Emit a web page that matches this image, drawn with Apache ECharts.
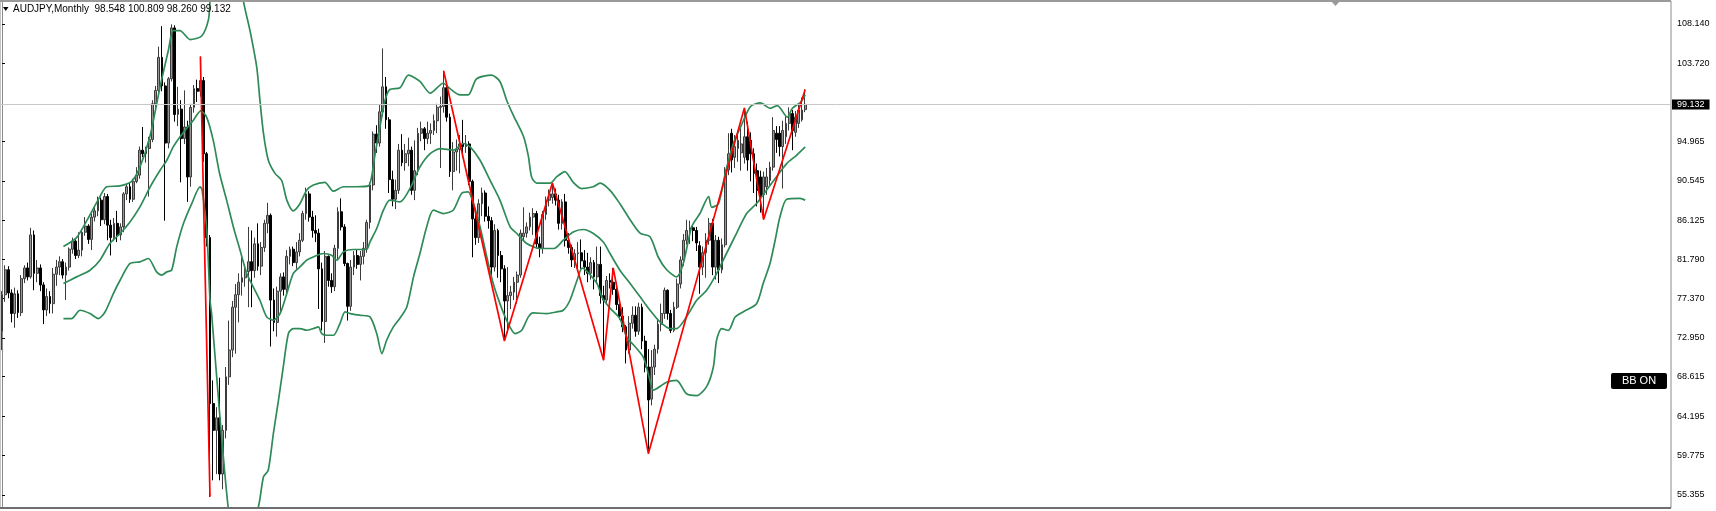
<!DOCTYPE html>
<html><head><meta charset="utf-8">
<script src="https://cdn.jsdelivr.net/npm/echarts@6/dist/echarts.min.js"></script>
<style>html,body{margin:0;padding:0;background:#fff}#c{width:1716px;height:511px}</style>
</head><body><div id="c"></div>
<script>
// Monthly AUDJPY bars, index 0 = first bar on the chart
const opens=[73.7,77.8,80.6,78.0,75.7,77.9,75.8,79.6,80.8,79.8,
84.5,80.2,80.8,78.9,76.1,77.6,76.8,80.1,80.9,81.5,
80.0,80.9,82.9,83.8,82.2,82.8,84.8,85.5,84.0,86.5,
87.2,88.4,86.2,88.8,85.6,84.2,85.8,84.5,85.4,89.1,
89.9,88.5,90.5,91.2,94.0,93.6,94.2,95.2,99.2,100.7,
104.4,101.2,94.8,102.0,107.7,98.0,98.6,95.3,96.6,91.0,
98.8,100.9,100.6,101.8,93.6,84.2,65.6,62.6,64.0,57.7,
62.6,68.6,71.6,76.4,77.8,79.2,79.7,80.4,81.5,80.5,
83.5,81.0,83.1,85.8,86.7,77.2,74.7,78.2,79.8,78.4,
82.1,82.9,81.4,82.6,83.9,86.9,89.1,86.5,85.0,84.7,
80.7,74.8,82.1,79.4,78.7,83.0,87.1,85.4,81.3,76.5,
80.9,82.2,81.2,82.1,83.0,85.9,90.1,95.8,94.8,98.3,
101.1,97.4,90.7,88.5,89.5,94.0,92.6,93.6,94.0,89.5,
91.7,95.9,96.4,95.3,95.9,96.2,97.3,98.8,98.9,101.0,
97.7,91.6,93.8,94.1,94.7,94.4,94.7,90.5,86.3,84.2,
88.0,89.2,86.6,86.1,80.9,85.0,82.2,80.7,77.1,77.7,
78.1,79.2,80.0,84.3,84.7,85.4,86.5,86.9,83.5,83.0,
86.8,88.4,88.7,89.1,88.4,85.8,88.2,83.9,83.1,81.7,
82.4,82.5,81.6,80.9,80.2,81.4,79.8,81.2,77.7,77.2,
79.4,79.2,78.4,76.7,75.4,74.2,71.6,74.6,75.5,73.7,
76.4,72.6,69.7,66.1,69.7,71.7,74.5,75.7,78.3,75.7,
73.8,76.4,79.0,81.7,83.9,85.0,85.3,85.0,83.3,80.9,
82.5,83.9,85.8,80.9,83.9,80.6,83.4,91.8,95.9,93.2,
94.2,93.7,93.2,95.5,95.1,93.6,91.7,91.0,89.0,89.9,
90.6,92.1,95.9,95.9,94.4,95.5,97.0,98.1,96.0,97.0,
97.4,98.548];
const highs=[78.2,81.1,81.0,78.4,78.6,78.3,80.0,81.1,81.4,85.3,
85.0,81.7,81.2,79.2,78.5,78.2,80.8,81.7,82.1,81.8,
81.4,83.1,84.2,84.0,84.8,85.2,86.5,85.7,86.9,87.6,
88.8,88.7,89.2,89.1,86.2,86.4,87.2,85.8,89.3,90.2,
90.3,90.8,92.1,94.4,96.6,94.4,95.5,99.6,101.2,105.6,
107.9,101.6,102.2,108.1,108.0,101.1,99.6,100.7,97.3,99.2,
101.3,101.9,104.5,102.2,93.8,84.5,68.2,65.2,68.5,63.2,
69.7,74.9,77.1,79.0,80.2,82.0,81.2,85.4,85.0,84.2,
85.8,83.7,86.2,88.1,86.9,78.5,78.7,80.2,80.3,82.8,
83.2,83.2,83.7,84.7,87.2,89.8,89.4,87.2,86.7,85.2,
81.4,82.7,82.2,80.2,83.4,87.6,88.6,85.7,81.4,81.7,
82.7,82.9,82.7,83.7,86.2,90.4,96.1,96.8,99.1,105.4,
102.2,97.7,91.7,90.7,94.7,95.8,94.7,95.4,94.4,95.1,
96.5,97.2,96.6,97.2,97.0,98.0,99.2,100.0,102.9,101.7,
98.1,94.9,95.2,95.7,97.4,95.7,95.0,90.7,87.2,88.5,
89.8,89.5,87.7,86.5,85.7,85.2,82.7,81.1,80.9,78.8,
79.8,80.4,85.1,87.6,85.9,87.0,87.5,87.2,84.3,87.2,
88.8,89.6,90.33,89.7,89.0,88.5,89.1,84.7,83.4,82.9,
83.7,84.0,82.8,82.5,82.0,81.7,83.2,83.2,78.8,79.9,
80.2,80.8,79.2,77.1,76.4,74.4,75.4,76.5,76.5,76.9,
76.8,73.2,71.7,71.6,72.2,75.1,76.8,78.6,78.4,76.1,
77.0,79.6,82.1,84.6,86.2,86.1,85.7,85.4,83.8,83.2,
84.7,86.4,86.3,84.5,84.3,84.1,92.1,95.9,96.4,95.7,
96.2,96.5,98.74,97.2,96.0,94.2,92.5,91.7,91.6,92.0,
92.7,97.7,96.7,96.7,97.3,97.8,98.8,98.5,98.4,99.1,
99.9,100.809];
const lows=[71.6,77.0,77.4,74.7,74.1,75.2,75.4,79.1,79.4,79.6,
78.3,79.2,78.2,74.5,75.4,75.7,75.7,78.8,80.0,79.6,
77.2,80.5,82.4,81.8,81.9,82.1,84.4,83.5,82.8,86.0,
86.6,85.5,85.7,83.9,82.2,83.8,83.7,83.9,84.8,88.4,
88.1,88.2,90.3,90.8,93.2,92.6,88.8,94.9,98.5,100.4,
100.6,86.1,94.2,101.7,97.2,96.7,90.4,94.7,88.2,89.9,
98.2,99.4,100.0,92.7,83.2,55.15,57.0,57.7,57.0,56.0,
61.7,67.7,70.8,71.2,74.7,77.7,78.7,76.4,76.4,79.7,
80.5,80.0,82.6,84.7,72.0,73.7,73.1,75.7,77.7,78.0,
81.2,81.0,80.7,82.1,83.7,86.2,86.0,84.2,83.7,76.2,
73.8,72.4,78.7,78.0,78.2,81.7,85.0,81.0,74.9,76.0,
80.0,80.7,79.4,81.2,82.5,85.2,89.5,93.7,94.4,97.8,
96.4,89.2,87.7,87.4,89.1,92.2,91.7,92.2,89.0,88.4,
91.2,95.0,94.0,94.7,94.7,95.7,95.9,92.0,98.2,97.2,
91.0,89.5,91.7,91.4,93.2,93.7,90.1,82.0,83.4,83.6,
86.6,86.0,85.2,80.0,80.4,79.7,79.2,72.62,73.5,76.2,
77.2,76.8,79.7,83.9,84.2,85.0,84.5,83.1,82.0,82.4,
86.2,87.7,88.0,87.8,85.1,85.1,83.2,82.4,80.9,80.8,
80.8,80.7,80.0,79.2,79.5,78.4,79.0,76.8,70.46,76.7,
78.5,77.8,76.1,75.0,73.6,70.1,71.2,74.0,73.1,73.3,
71.7,69.1,60.0,65.4,68.8,71.2,73.7,75.1,75.0,73.5,
73.6,76.2,78.5,81.0,83.4,83.5,83.8,82.7,77.9,80.0,
79.7,83.4,80.0,79.5,79.1,80.2,83.1,91.2,91.5,92.0,
92.7,91.7,92.5,91.7,90.5,89.2,87.7,87.0,86.23,89.0,
90.1,91.7,93.7,93.3,89.7,94.7,96.2,94.0,95.5,96.5,
97.2,98.26];
const closes=[77.8,80.6,78.0,75.7,77.9,75.8,79.6,80.8,79.8,84.5,
80.2,80.8,78.9,76.1,77.6,76.8,80.1,80.9,81.5,80.0,
80.9,82.9,83.8,82.2,82.8,84.8,85.5,84.0,86.5,87.2,
88.4,86.2,88.8,85.6,84.2,85.8,84.5,85.4,89.1,89.9,
88.5,90.5,91.2,94.0,93.6,94.2,95.2,99.2,100.7,104.4,
101.2,94.8,102.0,107.7,98.0,98.6,95.3,96.6,91.0,98.8,
100.9,100.6,101.8,93.6,84.2,65.6,62.6,64.0,57.7,62.6,
68.6,71.6,76.4,77.8,79.2,79.7,80.4,81.5,80.5,83.5,
81.0,83.1,85.8,86.7,77.2,74.7,78.2,79.8,78.4,82.1,
82.9,81.4,82.6,83.9,86.9,89.1,86.5,85.0,84.7,80.7,
74.8,82.1,79.4,78.7,83.0,87.1,85.4,81.3,76.5,80.9,
82.2,81.2,82.1,83.0,85.9,90.1,95.8,94.8,98.3,101.1,
97.4,90.7,88.5,89.5,94.0,92.6,93.6,94.0,89.5,91.7,
95.9,96.4,95.3,95.9,96.2,97.3,98.8,98.9,101.0,97.7,
91.6,93.8,94.1,94.7,94.4,94.7,90.5,86.3,84.2,88.0,
89.2,86.6,86.1,80.9,85.0,82.2,80.7,77.1,77.7,78.1,
79.2,80.0,84.7,84.7,85.4,86.5,86.9,83.5,83.0,86.8,
88.4,89.1,89.1,88.4,85.8,88.2,83.9,83.1,81.7,82.4,
82.5,81.6,80.9,80.2,81.4,79.8,81.2,77.7,77.2,79.4,
79.2,78.4,76.7,75.4,74.2,71.6,74.6,75.5,73.7,76.4,
72.6,69.7,66.0,69.7,71.7,74.5,75.7,78.3,75.7,73.8,
76.4,79.0,81.7,83.9,85.0,85.3,85.0,83.6,80.9,82.5,
83.9,85.8,80.9,83.9,80.6,83.4,91.8,93.6,92.9,94.4,
95.1,94.7,95.5,92.9,93.6,91.4,89.5,88.8,91.0,91.0,
92.1,96.2,95.2,94.4,96.2,97.0,98.1,96.2,97.7,98.5,
98.5,99.132];

// Bollinger band lines: [bar position, price]
const bbUpper=[[19.2,83.2],[23.3,84.2],[26.5,86.1],[30.6,88.8],[32.7,89.9],[36.9,90.0],[40.5,90.5],[43.1,92.1],[46.2,95.5],[49.4,101.1],[52,105.2],[53.5,107.4],[55.6,107.4],[58.8,106.4],[62.4,106.8],[64.5,108.6],[65,110.8],[66,115],[68,119],[70,121],[72,120],[74,115],[75.4,110.8],[77.5,107.4],[79.6,103.3],[80.6,99.6],[81.7,95.9],[83.2,92.9],[85.3,91.4],[87.4,90.6],[89,88.4],[91,87.2],[93.1,88.0],[95.2,89.5],[97.3,90.1],[100.9,90.4],[103.5,89.4],[106.7,89.9],[110.8,89.9],[114.5,90.0],[115.5,91.0],[116.6,93.6],[118.1,96.6],[119.7,99.6],[121.2,100.8],[124.4,101.0],[127,102.4],[130.6,101.7],[133.8,100.4],[137.9,101.5],[140,100.9],[143.1,100.2],[145.7,100.2],[148.3,102.0],[153,102.4],[155.6,101.7],[157.7,99.6],[159.8,97.9],[163,95.5],[164.5,93.3],[165.5,91.0],[167.1,90.3],[171.3,90.3],[173.3,91.0],[175.9,91.6],[178.5,90.4],[181.1,89.7],[184.8,89.9],[186.9,90.3],[190,89.5],[193.1,88.0],[196.3,86.2],[199.4,84.7],[202.5,84.3],[205.1,82.0],[207.7,80.6],[210.8,79.8],[212.9,81.3],[215.5,85.4],[218.1,86.9],[220.8,88.8],[221.8,87.6],[223.9,88.0],[226,91.4],[228.6,94.8],[231.3,97.0],[233.9,98.9],[237,99.3],[240.1,98.7],[242.3,99.0],[245.4,97.7],[247,98.7],[249.6,99.4],[251,100.2]];
const bbMiddle=[[19.2,79.05],[23.3,79.8],[27.5,80.55],[30.6,81.67],[33.7,83.54],[36.9,84.66],[40,85.96],[43.1,87.64],[46.3,89.88],[49.4,91.75],[51.5,92.87],[53.5,94.37],[55.6,95.49],[57.7,96.43],[59.8,97.36],[62.1,98.4],[63.9,97.73],[66,95.12],[68,91.38],[70.2,88.4],[72.3,85.4],[74.4,82.79],[76.5,80.17],[78.5,78.68],[80.6,77.18],[82.7,75.32],[84.8,74.94],[86.9,75.69],[89,77.93],[91,80.17],[93.1,80.91],[95.2,81.67],[97.8,82.12],[100.4,82.42],[103,82.23],[104.6,81.67],[106.7,82.6],[109.8,82.87],[113.9,82.87],[115,83.72],[117.1,85.22],[119.2,87.27],[121.2,88.4],[124.4,88.2],[127.5,89.7],[130.6,92.12],[133.8,93.62],[136.9,94.18],[141.1,94.0],[144.2,94.75],[146.3,94.37],[149.4,92.87],[152.5,90.63],[155.6,88.4],[158.8,85.4],[160.9,84.66],[164,83.54],[168.1,82.98],[172.5,82.98],[175.4,83.91],[178.5,84.84],[181.7,85.11],[184.8,84.66],[187.9,83.7],[190,82.42],[193.1,80.55],[196.3,79.05],[199.4,77.56],[202.5,76.06],[205.6,74.75],[208.8,74.01],[210.8,74.01],[213.9,75.32],[217.1,77.18],[220.2,78.3],[223.3,80.17],[226.4,82.42],[229.5,84.66],[232.7,86.9],[235.8,88.02],[238.9,89.51],[242,91.0],[245.2,92.5],[248.3,93.43],[251,94.37]];
const bbLower=[[19.2,75.13],[21.7,75.13],[24.4,76.06],[27.5,75.69],[30.1,75.13],[32.2,75.87],[34.8,77.93],[36.9,79.42],[40,81.3],[43.1,81.48],[45.7,81.86],[48.3,80.36],[49.9,79.99],[51.5,80.36],[53,80.55],[54.6,83.16],[56.7,85.78],[59.3,88.02],[61.9,89.88],[62.5,89.6],[64,85.0],[65,77.2],[65.5,75.7],[68.1,64.1],[70.7,53.9],[72,52.0],[74,51.8],[76,52.3],[78,52.8],[80.1,54.0],[81.7,57.38],[83.2,58.13],[84.8,62.24],[86.4,65.98],[87.9,69.71],[89.5,73.45],[91,74.01],[93.1,74.01],[95.2,73.82],[97.3,74.01],[98.9,74.19],[99.9,73.45],[101.5,73.26],[103.6,73.26],[105.6,74.57],[107.2,75.87],[108.8,75.69],[111.9,75.5],[115,75.32],[117.1,73.45],[118.7,71.21],[120.2,72.7],[122.3,74.19],[124.4,75.2],[126.5,76.43],[128.6,79.8],[130.6,82.42],[132.7,85.4],[134.8,87.27],[137.9,86.9],[141,87.27],[143.6,89.14],[145.7,89.32],[147.3,88.02],[149.4,85.4],[151.5,82.04],[153.5,79.05],[155.6,76.8],[157.7,74.94],[160.3,73.45],[162.4,73.82],[164.5,75.32],[166,75.76],[170.2,75.69],[173.3,75.87],[175.4,76.06],[177.5,77.18],[179.7,79.42],[181.3,80.77],[185.9,79.09],[187.5,77.5],[190,76.3],[193.1,75.1],[195.3,73.0],[197.3,72.2],[200.4,70.8],[202.5,68.2],[203.5,67.1],[207.7,68.0],[210.8,68.2],[213.9,66.7],[217.1,66.5],[220.2,67.5],[222.3,69.7],[223.3,72.7],[224.9,74.0],[227,73.8],[229.1,75.3],[231.7,75.9],[235.8,76.8],[237.9,79.1],[240,81.3],[241.6,83.9],[243.1,86.5],[245.2,88.5],[249.4,88.6],[251,88.4]];

// ZigZag turning points [bar, price]
const zigzagOld=[[62,104.5],[65,55.15]];
const zigzagNew=[[138,102.9],[157,72.62],[172,90.33],[188,70.46],[191,80.8],[202,60.0],[232,98.74],[238,86.23],[251,100.809]];

const priceTicks=[108.140,103.720,94.965,90.545,86.125,81.790,77.370,72.950,68.615,64.195,59.775,55.355];
const lastPrice=99.132;
const titleText='AUDJPY,Monthly  98.548 100.809 98.260 99.132';

const candles=opens.map((o,i)=>[i,o,closes[i],lows[i],highs[i]]);
const FONT='"Liberation Sans", Arial, sans-serif';
const GREEN='#2e8b57';

const chart=echarts.init(document.getElementById('c'),null,{renderer:'canvas'});
chart.setOption({
  animation:false,
  backgroundColor:'#fff',
  title:{text:titleText,left:13,top:4,padding:0,textStyle:{fontFamily:FONT,fontSize:10,fontWeight:'normal',color:'#000'}},
  grid:{left:0,right:45,top:1,bottom:3,show:true,borderColor:'#8c8c8c',borderWidth:1},
  xAxis:{type:'value',min:-0.625,max:521.56,show:false,splitLine:{show:false}},
  yAxis:{type:'value',position:'right',min:53.898,max:110.718,scale:true,
    axisLine:{show:true,lineStyle:{color:'#8c8c8c'}},
    splitLine:{show:false},
    axisTick:{show:true,length:3,lineStyle:{color:'#000'},customValues:priceTicks},
    axisLabel:{customValues:priceTicks,formatter:v=>v.toFixed(3),fontFamily:FONT,fontSize:9,color:'#000',margin:6}
  },
  graphic:[
    {type:'line',shape:{x1:0,y1:1,x2:1671,y2:1},style:{stroke:'#9a9a9a',lineWidth:2},z:10},
    {type:'line',shape:{x1:0,y1:508,x2:1671,y2:508},style:{stroke:'#6e6e6e',lineWidth:2},z:10},
    {type:'polygon',shape:{points:[[3,7],[8.5,7],[5.75,11]]},style:{fill:'#000'}},
    {type:'polygon',shape:{points:[[1331,1],[1340,1],[1335.5,6]]},style:{fill:'#9a9a9a'},z:11},
    {type:'group',left:1611,top:373,children:[
      {type:'rect',shape:{x:0,y:0,width:56,height:16,r:2},style:{fill:'#000'}},
      {type:'text',x:28,y:8,style:{text:'BB ON',fill:'#fff',font:'11px "Liberation Sans", Arial, sans-serif',align:'center',verticalAlign:'middle'}}
    ]}
  ],
  series:[
    {type:'candlestick',data:candles,encode:{x:0,y:[1,2,3,4]},barWidth:2.4,
      itemStyle:{color:'#959595',color0:'#000',borderColor:'#3c3c3c',borderColor0:'#000',borderWidth:1},
      markLine:{silent:true,symbol:'none',animation:false,
        lineStyle:{color:'#c8c8c8',width:1,type:'solid'},
        label:{position:'end',distance:1,formatter:lastPrice.toFixed(3),backgroundColor:'#000',color:'#fff',fontFamily:FONT,fontSize:9,lineHeight:10,padding:[0,5,0,5]},
        data:[{yAxis:lastPrice}]},
      z:2},
    {type:'line',data:bbUpper,showSymbol:false,smooth:0.25,lineStyle:{color:GREEN,width:1.7},z:3},
    {type:'line',data:bbMiddle,showSymbol:false,smooth:0.25,lineStyle:{color:GREEN,width:1.7},z:3},
    {type:'line',data:bbLower,showSymbol:false,smooth:0.25,lineStyle:{color:GREEN,width:1.7},z:3},
    {type:'line',data:zigzagOld,showSymbol:false,lineStyle:{color:'#ff0000',width:1.7},z:4},
    {type:'line',data:zigzagNew,showSymbol:false,lineStyle:{color:'#ff0000',width:1.7},z:4}
  ]
});
</script></body></html>
